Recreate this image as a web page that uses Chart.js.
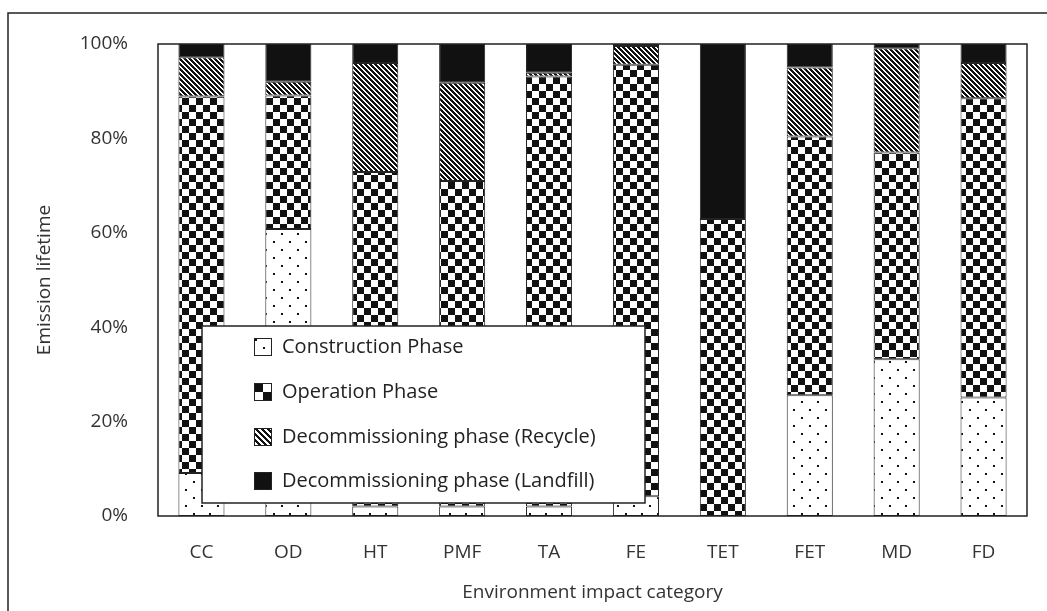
<!DOCTYPE html>
<html>
<head>
<meta charset="utf-8">
<script src="https://cdn.jsdelivr.net/npm/chart.js@4/dist/chart.umd.min.js"></script>
<style>
  html, body { margin: 0; padding: 0; background: #fff; }
  #wrap { width: 1047px; height: 611px; position: relative; }
</style>
</head>
<body>
<div id="wrap"><canvas id="emission"></canvas></div>
<script>
// values (percent of lifetime emission)
const categories = ['CC', 'OD', 'HT', 'PMF', 'TA', 'FE', 'TET', 'FET', 'MD', 'FD'];
const construction = [9.1, 60.8, 2.0, 2.0, 2.0, 4.2, 0.0, 25.6, 33.2, 25.1];
const operation = [79.8, 28.3, 70.9, 69.0, 91.1, 91.4, 62.9, 54.8, 43.8, 63.4];
const recycle = [8.3, 2.9, 23.1, 20.8, 0.8, 4.0, 0.0, 14.6, 22.1, 7.5];
const landfill = [2.8, 8.0, 4.0, 8.2, 6.1, 0.4, 37.1, 5.0, 0.9, 4.0];
const yTicks = [0, 20, 40, 60, 80, 100];

const INK = '#111';
Chart.defaults.font.family = '"Open Sans", "Noto Sans", sans-serif';

// pixel patterns for the black & white fills
function makeTile(kind, s) {
  const c = document.createElement('canvas');
  const g = c.getContext('2d');
  if (kind === 'dots') {
    c.width = c.height = 2 * s;
    g.fillStyle = '#fff'; g.fillRect(0, 0, c.width, c.height);
    g.fillStyle = INK;
    g.fillRect(1, 1, 2, 2);
    g.fillRect(s + 1, s + 1, 2, 2);
  } else if (kind === 'checker') {
    c.width = c.height = 2 * s;
    g.fillStyle = '#fff'; g.fillRect(0, 0, c.width, c.height);
    g.fillStyle = INK;
    g.fillRect(0, 0, s, s);
    g.fillRect(s, s, s, s);
  } else if (kind === 'stripes') {
    c.width = c.height = s;
    g.fillStyle = '#fff'; g.fillRect(0, 0, s, s);
    g.fillStyle = INK;
    for (let y = 0; y < s; y++) {
      for (let x = 0; x < s; x++) {
        if ((((x - y) % s) + s) % s < s / 2) g.fillRect(x, y, 1, 1);
      }
    }
  }
  return c;
}

const ctx = document.getElementById('emission').getContext('2d');
const fillDots = ctx.createPattern(makeTile('dots', 8), 'repeat');
const fillChecker = ctx.createPattern(makeTile('checker', 7), 'repeat');
const fillStripes = ctx.createPattern(makeTile('stripes', 5), 'repeat');

// bigger versions for the legend swatches
const iconFills = [
  ctx.createPattern(makeTile('dots', 8), 'repeat'),
  ctx.createPattern(makeTile('checker', 9), 'repeat'),
  ctx.createPattern(makeTile('stripes', 6), 'repeat'),
  INK
];

const frames = {
  id: 'frames',
  afterDraw(chart) {
    const g = chart.ctx;
    const a = chart.chartArea;
    g.save();
    g.strokeStyle = '#222';
    g.lineWidth = 1.5;
    // outer picture frame
    g.beginPath();
    g.moveTo(8, 611); g.lineTo(8, 13); g.lineTo(1047, 13);
    g.stroke();
    // plot area box
    g.strokeRect(a.left, a.top, a.right - a.left, a.bottom - a.top);

    // legend box over the plot
    const bx = 202, by = 326, bw = 443, bh = 177;
    g.fillStyle = '#fff';
    g.fillRect(bx, by, bw, bh);
    g.strokeRect(bx, by, bw, bh);
    const rows = [347, 392, 437, 481];
    g.font = '20px "Open Sans"';
    g.textBaseline = 'middle';
    chart.data.datasets.forEach((ds, i) => {
      const y = rows[i];
      g.save();
      g.translate(254, y - 9);
      g.fillStyle = iconFills[i];
      g.fillRect(0, 0, 18, 18);
      g.lineWidth = 1;
      g.strokeStyle = '#222';
      g.strokeRect(0.5, 0.5, 17, 17);
      g.restore();
      g.fillStyle = '#222';
      g.fillText(ds.label, 282, y);
    });
    g.restore();
  }
};

const chart = new Chart(ctx, {
  type: 'bar',
  data: {
    labels: categories,
    datasets: [
      { label: 'Construction Phase', data: construction, backgroundColor: fillDots },
      { label: 'Operation Phase', data: operation, backgroundColor: fillChecker },
      { label: 'Decommissioning phase (Recycle)', data: recycle, backgroundColor: fillStripes },
      { label: 'Decommissioning phase (Landfill)', data: landfill, backgroundColor: INK }
    ]
  },
  options: {
    responsive: true,
    maintainAspectRatio: false,
    animation: false,
    layout: { padding: { left: 24, top: 44, right: 20, bottom: 0 } },
    datasets: {
      bar: {
        barPercentage: 0.53,
        categoryPercentage: 1,
        borderWidth: 1,
        borderColor: '#222',
        borderSkipped: false
      }
    },
    plugins: {
      legend: { display: false },
      tooltip: { enabled: false }
    },
    scales: {
      x: {
        stacked: true,
        grid: { display: false, drawTicks: false },
        border: { display: false },
        ticks: { color: '#333', font: { size: 19 }, padding: 25 },
        title: {
          display: true,
          text: 'Environment impact category',
          color: '#333',
          font: { size: 19 },
          padding: { top: 0, bottom: 7 }
        },
        afterFit(scale) { scale.height = 95; }
      },
      y: {
        stacked: true,
        min: 0,
        max: 100,
        grid: { display: false, drawTicks: false },
        border: { display: false },
        afterBuildTicks(scale) { scale.ticks = yTicks.map(v => ({ value: v })); },
        ticks: {
          color: '#333',
          font: { size: 19 },
          padding: 30,
          callback: v => v + '%'
        },
        title: {
          display: true,
          text: 'Emission lifetime',
          color: '#333',
          font: { size: 19 },
          padding: { top: 9, bottom: 0 }
        },
        afterFit(scale) { scale.width = 134; }
      }
    }
  },
  plugins: [frames]
});
</script>
</body>
</html>
